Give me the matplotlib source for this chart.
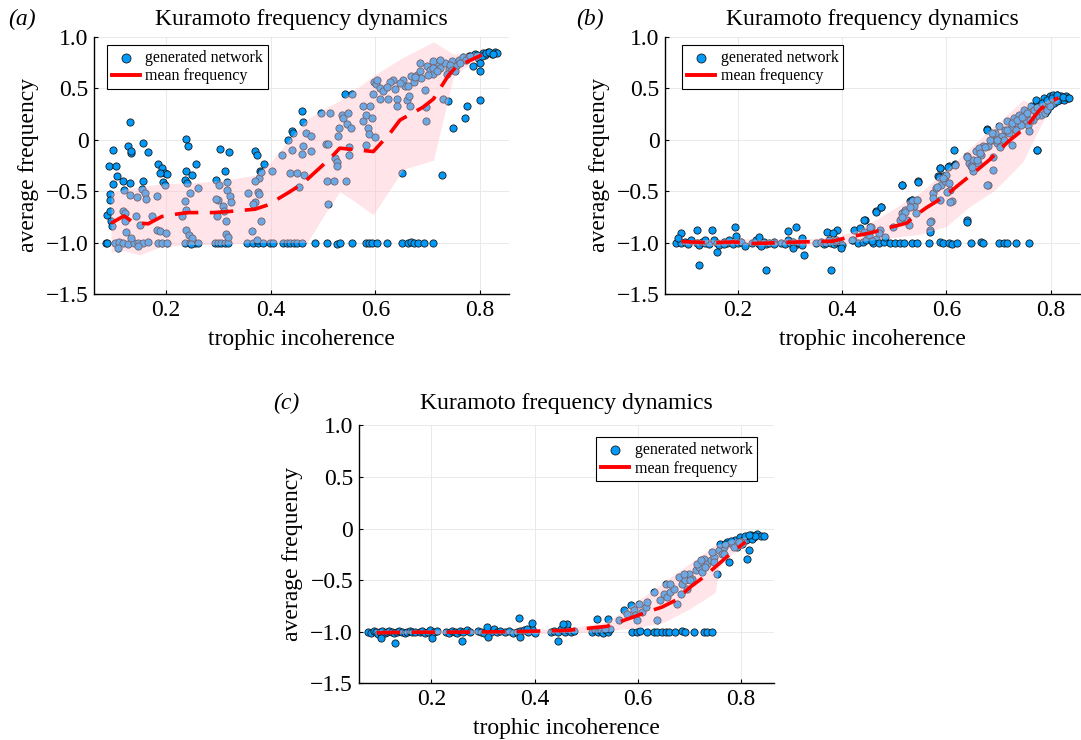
import matplotlib
matplotlib.use('Agg')
import matplotlib.pyplot as plt
from matplotlib.lines import Line2D

plt.rcParams['font.family'] = ['Liberation Serif', 'DejaVu Serif']

# ---------------- data ----------------
xtick_values = [0.2, 0.4, 0.6, 0.8]
xtick_labels = ['0.2', '0.4', '0.6', '0.8']
ytick_values = [1.0, 0.5, 0.0, -0.5, -1.0, -1.5]
ytick_labels = ['1.0', '0.5', '0', '\u22120.5', '\u22121.0', '\u22121.5']
panel_labels = ['(a)', '(b)', '(c)']
title_text = 'Kuramoto frequency dynamics'
series_names = ['generated network', 'mean frequency']

# panel (a): points on the -1 level
a_base = [(0.085, -1.0), (0.088, -1.0), (0.103, -1.0), (0.110, -0.99), (0.118, -1.0), (0.127, -1.01),
          (0.138, -1.0), (0.147, -1.0), (0.157, -1.0), (0.165, -0.99), (0.185, -1.0), (0.193, -1.0),
          (0.201, -1.0), (0.236, -1.0), (0.246, -1.0), (0.255, -1.0), (0.262, -1.0), (0.294, -1.0),
          (0.300, -1.0), (0.306, -1.0), (0.313, -1.0), (0.319, -1.0), (0.354, -1.0), (0.367, -1.0),
          (0.376, -1.0), (0.386, -1.0), (0.399, -1.0), (0.405, -1.0), (0.424, -1.0), (0.431, -1.0),
          (0.437, -1.0), (0.444, -1.0), (0.450, -1.0), (0.459, -1.0), (0.485, -1.0), (0.507, -1.0),
          (0.526, -1.01), (0.532, -1.0), (0.555, -1.0), (0.583, -1.0), (0.588, -1.0), (0.593, -1.0),
          (0.603, -1.0), (0.622, -1.0), (0.650, -1.0), (0.663, -1.0), (0.668, -0.99), (0.673, -1.0),
          (0.682, -1.0), (0.692, -1.0), (0.711, -1.0)]
# panel (a): other points
a_points = [(0.131, 0.172), (0.099, -0.097), (0.091, -0.259), (0.104, -0.259), (0.106, -0.356),
            (0.099, -0.430), (0.128, -0.065), (0.133, -0.129), (0.133, -0.113), (0.157, -0.032),
            (0.165, -0.123), (0.157, -0.405), (0.154, -0.476), (0.184, -0.233), (0.192, -0.275),
            (0.198, -0.324), (0.201, -0.330), (0.189, -0.324), (0.194, -0.414), (0.093, -0.527),
            (0.094, -0.583), (0.088, -0.728), (0.093, -0.696), (0.095, -0.793), (0.096, -0.841),
            (0.118, -0.405), (0.120, -0.485), (0.131, -0.421), (0.131, -0.534), (0.117, -0.696),
            (0.122, -0.712), (0.122, -0.793), (0.124, -0.896), (0.143, -0.738), (0.144, -0.557),
            (0.150, -0.825), (0.134, -0.955), (0.160, -0.518), (0.161, -0.573), (0.173, -0.744),
            (0.182, -0.550), (0.182, -0.874), (0.189, -0.890), (0.198, -0.443), (0.200, -0.906),
            (0.108, -1.052), (0.147, -1.036), (0.239, 0.006), (0.243, -0.058), (0.239, -0.301),
            (0.250, -0.340), (0.257, -0.236), (0.236, -0.388), (0.241, -0.421), (0.245, -0.518),
            (0.262, -0.469), (0.230, -0.744), (0.238, -0.680), (0.239, -0.874), (0.244, -0.922),
            (0.249, -0.955), (0.248, -1.019), (0.236, -0.599), (0.303, -0.087), (0.320, -0.120),
            (0.313, -0.301), (0.296, -0.388), (0.302, -0.437), (0.300, -0.583), (0.295, -0.576),
            (0.316, -0.414), (0.317, -0.485), (0.322, -0.550), (0.324, -0.605), (0.308, -0.647),
            (0.311, -0.696), (0.297, -0.738), (0.315, -0.793), (0.315, -0.913), (0.319, -0.945),
            (0.370, -0.107), (0.373, -0.146), (0.388, -0.236), (0.379, -0.307), (0.377, -0.372),
            (0.371, -0.405), (0.382, -0.314), (0.357, -0.518), (0.375, -0.511), (0.378, -0.528),
            (0.370, -0.608), (0.367, -0.621), (0.381, -0.786), (0.364, -0.890), (0.374, -0.971),
            (0.402, -0.307), (0.422, -0.146), (0.434, 0.000), (0.441, 0.087), (0.443, 0.065),
            (0.441, -0.097), (0.436, -0.324), (0.450, -0.324), (0.459, 0.282), (0.461, 0.168),
            (0.461, -0.058), (0.459, -0.139), (0.464, -0.340), (0.455, -0.460), (0.468, 0.065),
            (0.478, 0.032), (0.478, -0.107), (0.497, 0.259), (0.506, -0.042), (0.510, -0.039),
            (0.508, -0.398), (0.521, -0.398), (0.513, 0.259), (0.510, -0.628), (0.523, -0.178),
            (0.526, -0.220), (0.527, -0.259), (0.528, 0.032), (0.531, 0.113), (0.536, 0.243),
            (0.539, 0.210), (0.542, 0.443), (0.555, 0.443), (0.545, 0.155), (0.547, 0.259),
            (0.549, -0.074), (0.549, -0.146), (0.543, -0.398), (0.553, 0.113), (0.577, 0.330),
            (0.577, 0.184), (0.583, 0.243), (0.585, 0.113), (0.587, 0.055), (0.582, -0.055),
            (0.590, 0.330), (0.595, 0.443), (0.593, 0.210), (0.597, 0.557), (0.601, 0.544),
            (0.599, 0.026), (0.609, 0.502), (0.609, 0.395), (0.615, 0.469), (0.625, 0.395),
            (0.634, 0.576), (0.638, 0.492), (0.641, 0.395), (0.642, 0.324), (0.650, -0.324),
            (0.653, 0.583), (0.657, 0.524), (0.661, 0.388), (0.665, 0.421), (0.666, 0.324),
            (0.668, 0.615), (0.673, 0.557), (0.679, 0.631), (0.685, 0.663), (0.687, 0.599),
            (0.695, 0.485), (0.697, 0.178), (0.697, 0.317), (0.698, 0.712), (0.704, 0.680),
            (0.711, 0.641), (0.717, 0.744), (0.724, 0.696), (0.727, -0.340), (0.730, 0.395),
            (0.738, 0.379), (0.733, 0.744), (0.740, 0.686), (0.746, 0.761), (0.749, 0.113),
            (0.755, 0.712), (0.759, 0.777), (0.768, 0.799), (0.771, 0.210), (0.775, 0.324),
            (0.778, 0.809), (0.786, 0.712), (0.791, 0.835), (0.797, 0.793), (0.800, 0.382),
            (0.800, 0.670), (0.800, 0.744), (0.806, 0.841), (0.809, 0.819), (0.815, 0.851),
            (0.822, 0.832), (0.828, 0.848), (0.833, 0.841), (0.685, 0.744), (0.711, 0.761),
            (0.724, 0.777), (0.743, 0.728), (0.761, 0.744), (0.773, 0.777), (0.781, 0.815),
            (0.794, 0.825), (0.803, 0.809), (0.812, 0.841), (0.818, 0.848), (0.825, 0.835),
            (0.711, 0.696), (0.701, 0.631), (0.676, 0.608), (0.663, 0.518), (0.647, 0.550),
            (0.628, 0.557), (0.622, 0.511), (0.603, 0.583), (0.717, 0.663), (0.736, 0.641),
            (0.746, 0.680), (0.752, 0.663)]
a_mean = [(0.095, -0.812), (0.120, -0.741), (0.138, -0.806), (0.166, -0.818), (0.192, -0.747),
          (0.211, -0.731), (0.240, -0.709), (0.290, -0.709), (0.319, -0.699), (0.370, -0.676),
          (0.395, -0.634), (0.437, -0.505), (0.462, -0.423), (0.500, -0.246), (0.520, -0.148),
          (0.532, -0.083), (0.567, -0.100), (0.596, -0.116), (0.628, 0.062), (0.647, 0.190),
          (0.691, 0.315), (0.711, 0.395), (0.740, 0.628), (0.755, 0.709), (0.803, 0.822)]
a_band_x = [0.095, 0.12, 0.15, 0.19, 0.25, 0.30, 0.335, 0.37, 0.40, 0.44, 0.47, 0.50, 0.532,
            0.56, 0.596, 0.653, 0.711, 0.749, 0.781, 0.80]
a_band_hi = [-0.52, -0.48, -0.46, -0.43, -0.42, -0.40, -0.375, -0.345, -0.22, 0.03, 0.20, 0.29,
             0.38, 0.48, 0.62, 0.80, 0.95, 0.83, 0.84, 0.85]
a_band_lo = [-1.09, -1.08, -1.12, -1.04, -1.02, -1.02, -1.01, -1.0, -1.0, -1.0, -1.0, -0.75,
             -0.505, -0.60, -0.73, -0.29, -0.20, 0.61, 0.74, 0.79]

# panel (b)
b_base = [(0.082, -1.0), (0.092, -1.0), (0.098, -0.99), (0.104, -1.01), (0.111, -0.98), (0.121, -1.0),
          (0.126, -1.02), (0.131, -0.99), (0.138, -1.0), (0.144, -1.01), (0.154, -0.98), (0.160, -1.0),
          (0.164, -1.02), (0.174, -0.99), (0.180, -1.0), (0.184, -0.98), (0.191, -1.01), (0.201, -1.0),
          (0.207, -0.99), (0.227, -1.0), (0.234, -0.98), (0.240, -1.01), (0.244, -1.0), (0.250, -0.99),
          (0.254, -1.01), (0.260, -1.0), (0.270, -0.99), (0.283, -1.0), (0.290, -1.01), (0.296, -0.98),
          (0.300, -1.0), (0.306, -0.99), (0.313, -1.01), (0.318, -1.0), (0.323, -1.02), (0.349, -1.0),
          (0.359, -0.99), (0.365, -1.01), (0.369, -1.0), (0.375, -0.98), (0.379, -1.0), (0.385, -1.01),
          (0.389, -0.99), (0.395, -1.0), (0.399, -1.02), (0.420, -0.98), (0.430, -1.0), (0.440, -0.99),
          (0.460, -1.0), (0.465, -0.97), (0.470, -1.0), (0.480, -0.99),
          (0.491, -1.0), (0.501, -1.0), (0.511, -1.0), (0.518, -1.0), (0.534, -1.0), (0.544, -1.0),
          (0.567, -1.0), (0.587, -0.99), (0.594, -1.0), (0.604, -1.0), (0.610, -1.01), (0.620, -1.0),
          (0.647, -1.0), (0.667, -0.99), (0.670, -1.0), (0.700, -1.0), (0.710, -1.0), (0.716, -1.0),
          (0.733, -1.0), (0.758, -1.0)]
b_points = [(0.092, -0.906), (0.121, -0.880), (0.125, -1.223), (0.150, -0.880), (0.161, -1.091),
            (0.194, -0.851), (0.255, -1.269), (0.296, -0.890), (0.311, -0.851), (0.326, -1.117),
            (0.378, -1.269), (0.371, -0.900), (0.390, -0.874), (0.397, -1.052), (0.085, -0.955),
            (0.138, -0.971), (0.174, -1.019), (0.197, -0.939), (0.214, -1.036), (0.240, -0.945),
            (0.244, -1.036), (0.270, -1.019), (0.306, -1.052), (0.323, -0.955), (0.382, -0.906),
            (0.388, -0.971), (0.423, -0.874), (0.419, -0.977), (0.435, -0.858), (0.442, -0.900),
            (0.445, -0.971), (0.452, -0.922), (0.455, -0.848), (0.444, -0.783), (0.457, -0.987),
            (0.465, -0.696), (0.475, -0.654), (0.472, -0.874), (0.482, -0.945), (0.515, -0.437),
            (0.546, -0.405), (0.515, -0.712), (0.521, -0.680), (0.525, -0.777), (0.511, -0.777),
            (0.531, -0.599), (0.534, -0.583), (0.537, -0.647), (0.544, -0.583), (0.541, -0.712),
            (0.528, -0.825), (0.570, -0.786), (0.568, -0.874), (0.574, -0.518), (0.580, -0.469),
            (0.584, -0.356), (0.587, -0.275), (0.587, -0.583), (0.590, -0.437), (0.594, -0.356),
            (0.598, -0.405), (0.600, -0.340), (0.604, -0.259), (0.607, -0.485), (0.610, -0.599),
            (0.614, -0.097), (0.617, -0.236), (0.640, -0.777), (0.640, -0.162), (0.643, -0.227),
            (0.650, -0.307), (0.650, -0.194), (0.656, -0.113), (0.660, -0.227), (0.667, -0.146),
            (0.670, -0.065), (0.677, 0.104), (0.679, -0.437), (0.680, -0.065), (0.687, 0.000),
            (0.690, -0.291), (0.693, 0.065), (0.696, -0.032), (0.700, 0.129), (0.706, 0.032),
            (0.713, 0.097), (0.716, 0.178), (0.723, 0.113), (0.726, -0.055), (0.729, 0.210),
            (0.736, 0.162), (0.739, 0.243), (0.746, 0.194), (0.749, 0.291), (0.752, 0.243),
            (0.756, 0.146), (0.759, 0.081), (0.762, 0.324), (0.769, 0.275), (0.772, 0.388),
            (0.774, -0.097), (0.779, 0.340), (0.782, 0.243), (0.786, 0.405), (0.792, 0.356),
            (0.796, 0.388), (0.799, 0.421), (0.802, 0.388), (0.805, 0.437), (0.809, 0.405),
            (0.812, 0.437), (0.815, 0.388), (0.819, 0.421), (0.822, 0.405), (0.825, 0.388),
            (0.829, 0.421), (0.832, 0.405), (0.789, 0.259), (0.772, 0.227), (0.647, -0.259),
            (0.663, -0.081), (0.683, 0.000), (0.710, 0.000), (0.720, 0.065), (0.733, 0.097),
            (0.743, 0.146), (0.752, 0.194), (0.765, 0.194), (0.782, 0.324), (0.792, 0.291),
            (0.806, 0.360), (0.812, 0.380), (0.798, 0.330),
            (0.677, 0.094), (0.687, 0.062), (0.697, -0.003), (0.703, -0.068), (0.716, 0.094),
            (0.725, 0.159), (0.735, 0.191), (0.745, 0.223), (0.754, 0.256), (0.761, 0.191),
            (0.767, 0.288), (0.773, 0.320), (0.783, 0.353), (0.793, 0.385), (0.802, 0.402),
            (0.812, 0.434), (0.824, 0.417), (0.834, 0.402), (0.773, -0.100), (0.658, -0.197),
            (0.649, -0.262), (0.639, -0.165), (0.665, -0.132), (0.674, -0.068), (0.690, -0.165),
            (0.677, -0.440), (0.639, -0.796), (0.617, -0.246), (0.588, -0.278), (0.602, -0.262),
            (0.585, -0.359), (0.594, -0.375), (0.604, -0.423), (0.582, -0.456), (0.601, -0.505),
            (0.575, -0.569), (0.607, -0.602), (0.569, -0.796), (0.569, -0.893), (0.534, -0.585),
            (0.543, -0.585), (0.521, -0.699), (0.514, -0.748), (0.530, -0.650), (0.498, -0.845),
            (0.470, -0.909), (0.454, -0.845), (0.514, -0.440), (0.545, -0.408), (0.465, -0.699),
            (0.475, -0.650), (0.442, -0.780)]
b_mean = [(0.092, -0.990), (0.151, -1.003), (0.191, -0.994), (0.230, -1.010), (0.270, -1.003),
          (0.323, -0.994), (0.382, -0.987), (0.415, -0.945), (0.455, -0.906), (0.488, -0.858),
          (0.525, -0.809), (0.534, -0.761), (0.561, -0.663), (0.597, -0.550), (0.624, -0.437),
          (0.660, -0.291), (0.683, -0.194), (0.719, -0.016), (0.739, 0.065), (0.759, 0.162),
          (0.779, 0.291), (0.799, 0.372), (0.815, 0.405)]
b_band_x = [0.09, 0.15, 0.20, 0.25, 0.30, 0.35, 0.39, 0.433, 0.549, 0.60, 0.645, 0.690, 0.703,
            0.747, 0.767, 0.783, 0.80, 0.815]
b_band_hi = [-0.97, -0.97, -0.96, -0.97, -0.96, -0.96, -0.94, -0.875, -0.519, -0.293, -0.083,
             0.128, 0.18, 0.387, 0.338, 0.36, 0.40, 0.42]
b_band_lo = [-1.02, -1.03, -1.02, -1.03, -1.02, -1.03, -1.02, -0.989, -0.92, -0.843, -0.649,
             -0.50, -0.439, -0.212, -0.002, 0.16, 0.30, 0.38]

# panel (c)
c_base = [(0.078, -1.0), (0.083, -1.01), (0.088, -0.99), (0.092, -1.0), (0.097, -1.02), (0.100, -1.0),
          (0.105, -0.99), (0.110, -1.01), (0.114, -1.0), (0.118, -0.99), (0.123, -1.0), (0.127, -1.01),
          (0.133, -1.0), (0.138, -0.99), (0.143, -1.0), (0.148, -1.01), (0.153, -1.0), (0.158, -0.99),
          (0.163, -1.0), (0.168, -1.0), (0.177, -1.0), (0.182, -0.99), (0.188, -1.01), (0.193, -1.0),
          (0.198, -0.98), (0.205, -1.0), (0.210, -0.99), (0.229, -1.0), (0.234, -1.01), (0.239, -0.99),
          (0.245, -1.0), (0.250, -1.01), (0.256, -0.99), (0.262, -1.0), (0.268, -0.98), (0.274, -1.0),
          (0.290, -0.99), (0.296, -1.0), (0.302, -1.01), (0.309, -0.98), (0.315, -1.0), (0.321, -0.97),
          (0.327, -1.0), (0.333, -0.99), (0.343, -1.0), (0.350, -0.99), (0.358, -1.01), (0.366, -1.0),
          (0.372, -0.99), (0.380, -0.98), (0.388, -1.0), (0.395, -0.97), (0.400, -1.01), (0.432, -1.0),
          (0.438, -0.99), (0.445, -1.0), (0.452, -0.97), (0.458, -1.0), (0.465, -0.98), (0.470, -1.0),
          (0.476, -0.99), (0.512, -1.0), (0.518, -0.98), (0.523, -1.0), (0.528, -0.99), (0.533, -1.01),
          (0.538, -0.98), (0.543, -1.0), (0.547, -0.97),
          (0.589, -1.0), (0.599, -1.0), (0.605, -0.99), (0.618, -1.0), (0.631, -1.0), (0.638, -1.0),
          (0.647, -1.0), (0.654, -1.0), (0.660, -1.0), (0.673, -1.0), (0.686, -0.99), (0.692, -1.0),
          (0.709, -1.0), (0.728, -1.0), (0.734, -1.0), (0.744, -1.0)]
c_points = [(0.129, -1.107), (0.259, -1.094), (0.201, -1.061), (0.102, -1.061), (0.369, -0.867),
            (0.395, -0.913), (0.445, -1.094), (0.371, -1.052), (0.309, -1.052), (0.521, -0.877),
            (0.542, -0.874), (0.463, -0.922), (0.456, -0.929), (0.385, -0.971), (0.307, -0.955),
            (0.536, -0.971), (0.563, -0.890), (0.573, -0.793), (0.579, -0.825), (0.586, -0.744),
            (0.592, -0.793), (0.595, -0.841), (0.599, -0.890), (0.602, -0.728), (0.608, -0.809),
            (0.615, -0.761), (0.618, -0.712), (0.631, -0.615), (0.638, -0.890), (0.644, -0.696),
            (0.650, -0.631), (0.654, -0.534), (0.657, -0.663), (0.663, -0.615), (0.670, -0.583),
            (0.676, -0.735), (0.680, -0.469), (0.686, -0.534), (0.692, -0.502), (0.696, -0.583),
            (0.699, -0.437), (0.706, -0.485), (0.712, -0.405), (0.718, -0.372), (0.725, -0.421),
            (0.728, -0.291), (0.735, -0.340), (0.741, -0.307), (0.747, -0.275), (0.754, -0.437),
            (0.757, -0.210), (0.764, -0.243), (0.767, -0.178), (0.773, -0.129), (0.777, -0.324),
            (0.783, -0.146), (0.789, -0.113), (0.793, -0.178), (0.799, -0.081), (0.806, -0.097),
            (0.812, -0.291), (0.815, -0.210), (0.819, -0.065), (0.825, -0.081), (0.832, -0.055),
            (0.838, -0.074), (0.845, -0.074), (0.663, -0.534), (0.689, -0.437), (0.715, -0.340),
            (0.731, -0.372), (0.747, -0.324), (0.767, -0.243), (0.786, -0.178), (0.802, -0.146),
            (0.809, -0.113), (0.822, -0.097), (0.828, -0.074), (0.796, -0.129), (0.760, -0.146),
            (0.744, -0.227), (0.722, -0.307), (0.702, -0.502), (0.683, -0.631), (0.770, -0.150),
            (0.780, -0.120), (0.808, -0.070), (0.816, -0.060)]
c_mean = [(0.094, -1.010), (0.165, -1.005), (0.223, -1.005), (0.275, -1.003), (0.340, -1.0),
          (0.405, -0.994), (0.463, -0.987), (0.495, -0.971), (0.540, -0.948), (0.573, -0.890),
          (0.618, -0.809), (0.647, -0.761), (0.673, -0.696), (0.702, -0.566), (0.728, -0.469),
          (0.754, -0.356), (0.780, -0.243), (0.809, -0.129)]
c_band_x = [0.09, 0.15, 0.20, 0.25, 0.30, 0.35, 0.40, 0.45, 0.50, 0.54, 0.56, 0.60, 0.65, 0.70,
            0.75, 0.757, 0.78, 0.81]
c_band_hi = [-0.98, -0.985, -0.98, -0.985, -0.98, -0.98, -0.975, -0.97, -0.94, -0.90, -0.84, -0.70,
             -0.52, -0.34, -0.16, -0.15, -0.11, -0.08]
c_band_lo = [-1.02, -1.015, -1.02, -1.015, -1.02, -1.02, -1.02, -1.01, -1.005, -1.0, -0.98, -0.96,
             -0.91, -0.78, -0.62, -0.38, -0.25, -0.16]

# ---------------- figure ----------------
fig = plt.figure(figsize=(10.81, 7.40), dpi=100)

panels = [
    dict(rect=[0.0872, 0.6027, 0.3840, 0.3477], xlim=(0.063, 0.856), base=a_base, pts=a_points,
         mean=a_mean, bx=a_band_x, bhi=a_band_hi, blo=a_band_lo, loc='upper left',
         anchor=(0.031, 0.968), label_x=0.0074, title_y=0.9662),
    dict(rect=[0.6152, 0.6027, 0.3839, 0.3477], xlim=(0.0606, 0.856), base=b_base, pts=b_points,
         mean=b_mean, bx=b_band_x, bhi=b_band_hi, blo=b_band_lo, loc='upper left',
         anchor=(0.0415, 0.968), label_x=0.533, title_y=0.9662),
    dict(rect=[0.3318, 0.0766, 0.3842, 0.3486], xlim=(0.059, 0.864), base=c_base, pts=c_points,
         mean=c_mean, bx=c_band_x, bhi=c_band_hi, blo=c_band_lo, loc='upper right',
         anchor=(0.960, 0.9535), label_x=0.2525, title_y=0.447),
]

marker_color = '#009AFA'
for p, lab in zip(panels, panel_labels):
    ax = fig.add_axes(p['rect'])
    ax.set_xlim(*p['xlim'])
    ax.set_ylim(-1.5, 1.0)
    ax.grid(True, color='#e6e6e6', linewidth=0.6, zorder=0)
    allpts = p['base'] + p['pts']
    xs = [q[0] for q in allpts]
    ys = [q[1] for q in allpts]
    sc = ax.scatter(xs, ys, s=27, color=marker_color, edgecolors='#1a1a1a', linewidths=0.6,
                    zorder=2)
    ax.fill_between(p['bx'], p['blo'], p['bhi'], color='#FFC0CB', alpha=0.42, linewidth=0,
                    zorder=3)
    mx = [q[0] for q in p['mean']]
    my = [q[1] for q in p['mean']]
    ax.plot(mx, my, color='#FF0000', linewidth=2.6, dashes=(6.5, 3.2), zorder=4)
    for s in ['top', 'right']:
        ax.spines[s].set_visible(False)
    for s in ['left', 'bottom']:
        ax.spines[s].set_linewidth(1.0)
    ax.set_xticks(xtick_values)
    ax.set_xticklabels(xtick_labels)
    ax.set_yticks(ytick_values)
    ax.set_yticklabels(ytick_labels)
    ax.tick_params(direction='in', length=3, width=0.8, labelsize=17, pad=4)
    ax.set_xlabel('trophic incoherence', fontsize=17, labelpad=6)
    ax.set_ylabel('average frequency', fontsize=17, labelpad=5)
    cx = p['rect'][0] + p['rect'][2] / 2
    fig.text(cx, p['title_y'], title_text, fontsize=17, ha='center', va='baseline')
    fig.text(p['label_x'], p['title_y'], lab, fontsize=17, style='italic', ha='left',
             va='baseline')
    line_handle = Line2D([], [], color='#FF0000', linewidth=2.8)
    leg = ax.legend([sc, line_handle], series_names, loc=p['loc'], bbox_to_anchor=p['anchor'],
                    fontsize=11.5, frameon=True, fancybox=False, edgecolor='black',
                    framealpha=1.0, borderpad=0.3, labelspacing=0.15, handlelength=1.75,
                    handletextpad=0.35, borderaxespad=0.0, markerscale=1.25)
    leg.get_frame().set_linewidth(0.8)
    leg.set_zorder(10)

fig.savefig('out.png', dpi=100)
